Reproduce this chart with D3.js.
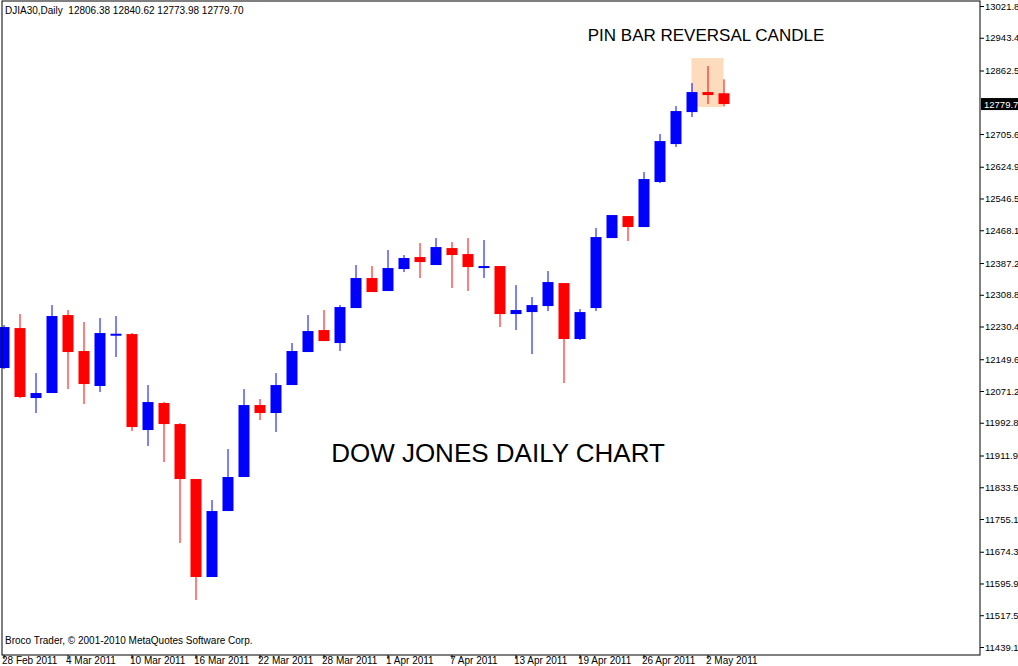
<!DOCTYPE html>
<html>
<head>
<meta charset="utf-8">
<script src="https://cdn.jsdelivr.net/npm/d3@7"></script>
<style>
  body { margin: 0; background: #fff; }
  svg text { font-family: "Liberation Sans", Arial, sans-serif; }
</style>
</head>
<body>
<svg id="svg" width="1018" height="666"></svg>
<script>
const dates = ['28 Feb', '1 Mar', '2 Mar', '3 Mar', '4 Mar', '7 Mar', '8 Mar', '9 Mar', '10 Mar', '11 Mar',
    '14 Mar', '15 Mar', '16 Mar', '17 Mar', '18 Mar', '21 Mar', '22 Mar', '23 Mar', '24 Mar', '25 Mar',
    '28 Mar', '29 Mar', '30 Mar', '31 Mar', '1 Apr', '4 Apr', '5 Apr', '6 Apr', '7 Apr', '8 Apr',
    '11 Apr', '12 Apr', '13 Apr', '14 Apr', '15 Apr', '18 Apr', '19 Apr', '20 Apr', '21 Apr', '25 Apr',
    '26 Apr', '27 Apr', '28 Apr', '29 Apr', '2 May', '3 May']
const open = [12127.9, 12226.6, 12053.8, 12066.2, 12258.7, 12169.9, 12083.5, 12208.1, 12211.8, 11974.8,
    12041.5, 11989.6, 11853.8, 11611.9, 11774.8, 11858.8, 12036.5, 12016.8, 12085.9, 12167.4,
    12221.7, 12189.6, 12276.0, 12350.1, 12318.0, 12372.3, 12401.9, 12382.2, 12424.1, 12409.3,
    12378.0, 12379.7, 12261.2, 12266.1, 12280.9, 12337.7, 12199.5, 12276.0, 12448.8, 12503.1,
    12476.0, 12587.1, 12680.9, 12759.9, 12809.3, 12806.38]
const high = [12234.0, 12261.2, 12115.5, 12283.4, 12271.1, 12241.5, 12251.3, 12256.3, 12214.3, 12085.9,
    12043.9, 11992.1, 11853.8, 11802.0, 11927.9, 12076.0, 12051.3, 12115.5, 12189.6, 12258.7,
    12271.1, 12283.4, 12382.2, 12379.7, 12419.2, 12406.9, 12436.5, 12448.8, 12438.9, 12448.8,
    12443.9, 12379.7, 12332.8, 12303.2, 12367.4, 12337.7, 12273.5, 12473.5, 12505.6, 12503.1,
    12611.8, 12705.6, 12774.7, 12831.5, 12873.5, 12840.62]
const low = [12125.4, 12053.8, 12016.8, 12066.2, 12076.0, 12039.0, 12068.6, 12155.0, 11972.3, 11935.3,
    11895.8, 11695.8, 11555.1, 11611.9, 11774.8, 11858.8, 11999.5, 11969.9, 12085.9, 12167.4,
    12194.5, 12169.9, 12276.0, 12315.5, 12318.0, 12364.9, 12350.1, 12382.2, 12325.4, 12318.0,
    12350.1, 12229.1, 12221.7, 12162.5, 12268.6, 12090.8, 12197.0, 12268.6, 12448.8, 12441.4,
    12476.0, 12584.6, 12673.5, 12747.6, 12779.6, 12773.98]
const close = [12229.1, 12056.3, 12066.2, 12256.3, 12167.4, 12088.4, 12214.3, 12212.6, 11982.2, 12043.9,
    11989.6, 11853.8, 11611.9, 11774.8, 11858.8, 12036.5, 12016.8, 12085.9, 12169.9, 12219.2,
    12194.5, 12278.5, 12350.1, 12315.5, 12374.8, 12399.5, 12389.6, 12426.6, 12406.9, 12377.2,
    12379.7, 12261.2, 12271.1, 12283.4, 12340.2, 12199.5, 12266.1, 12451.3, 12505.6, 12476.0,
    12594.5, 12688.3, 12762.4, 12809.3, 12801.9, 12779.70]
const priceTicks = [13021.8, 12943.4, 12862.5, 12705.6, 12624.9, 12546.5, 12468.1, 12387.2, 12308.8,
    12230.4, 12149.6, 12071.2, 11992.8, 11911.9, 11833.5, 11755.1, 11674.3, 11595.9, 11517.5, 11439.1]
const dateTicks = ['28 Feb', '4 Mar', '10 Mar', '16 Mar', '22 Mar', '28 Mar', '1 Apr', '7 Apr',
    '13 Apr', '19 Apr', '26 Apr', '2 May']
const lastPrice = 12779.7
const pinBar = '2 May'

const svg = d3.select('#svg')
const plot = { left: 2, right: 980, top: 1, bottom: 655 }
const step = 16

const xScale = d3.scalePoint()
    .domain(dates)
    .range([3.5, 3.5 + step * (dates.length - 1)])

const yScale = d3.scaleLinear()
    .domain([11439.1, 13021.8])
    .range([647, 6])

const bodyW = 11

// highlight box around the pin bar
const pinIdx = dates.indexOf(pinBar)
svg.append('rect')
    .attr('x', Math.round(xScale(pinBar)) - 16.5)
    .attr('width', 32)
    .attr('y', yScale(high[pinIdx]) - 8)
    .attr('height', 49)
    .attr('fill', '#fddcbd')

const candles = svg.append('g')
dates.forEach((d, i) => {
    const up = close[i] >= open[i]
    const col = up ? '#0000ff' : '#ff0000'
    const x = Math.round(xScale(d))
    candles.append('line')
        .attr('x1', x).attr('x2', x)
        .attr('y1', yScale(high[i])).attr('y2', yScale(low[i]))
        .attr('stroke', col).attr('stroke-width', 1)
    const top = yScale(Math.max(open[i], close[i]))
    const bot = yScale(Math.min(open[i], close[i]))
    candles.append('rect')
        .attr('x', x - bodyW / 2)
        .attr('y', top)
        .attr('width', bodyW)
        .attr('height', Math.max(bot - top, 2))
        .attr('fill', col)
})

// frame
svg.append('rect')
    .attr('x', plot.left).attr('y', plot.top)
    .attr('width', plot.right - plot.left).attr('height', plot.bottom - plot.top)
    .attr('fill', 'none').attr('stroke', '#000').attr('stroke-width', 1)

// right price axis
const yAxis = d3.axisRight(yScale).tickValues(priceTicks).tickSize(4).tickFormat(d3.format('.1f'))
svg.append('g')
    .attr('transform', `translate(${plot.right}, 0)`)
    .call(yAxis)
    .call(g => g.select('.domain').remove())
    .call(g => g.selectAll('text').attr('font-size', 9.5).attr('x', 5).attr('fill', '#000')
        .style('font-family', 'Liberation Sans, Arial, sans-serif'))

svg.append('rect')
    .attr('x', plot.right + 1).attr('y', yScale(lastPrice) - 6)
    .attr('width', 38).attr('height', 12).attr('fill', '#000')
svg.append('text')
    .attr('x', plot.right + 4).attr('y', yScale(lastPrice) + 4)
    .attr('font-size', 9.5).attr('fill', '#fff')
    .text(lastPrice.toFixed(1))

// bottom date axis
const xAxis = d3.axisBottom(xScale).tickValues(dateTicks).tickSize(4).tickFormat(d => d + ' 2011')
svg.append('g')
    .attr('transform', `translate(0, ${plot.bottom})`)
    .call(xAxis)
    .call(g => g.select('.domain').remove())
    .call(g => g.selectAll('text').attr('font-size', 10).attr('text-anchor', 'start')
        .attr('dx', -2).attr('y', 2).attr('fill', '#000')
        .style('font-family', 'Liberation Sans, Arial, sans-serif'))

svg.append('text').text('DJIA30,Daily  12806.38 12840.62 12773.98 12779.70')
    .attr('x', 5).attr('y', 14).attr('font-size', 10).attr('xml:space', 'preserve')
svg.append('text').text('Broco Trader, © 2001-2010 MetaQuotes Software Corp.')
    .attr('x', 5).attr('y', 644).attr('font-size', 10)

svg.append('text').text('DOW JONES DAILY CHART')
    .attr('x', 498).attr('y', 462).attr('text-anchor', 'middle')
    .attr('font-size', 26)
svg.append('text').text('PIN BAR REVERSAL CANDLE')
    .attr('x', 706).attr('y', 41).attr('text-anchor', 'middle')
    .attr('font-size', 17)
</script>
</body>
</html>
